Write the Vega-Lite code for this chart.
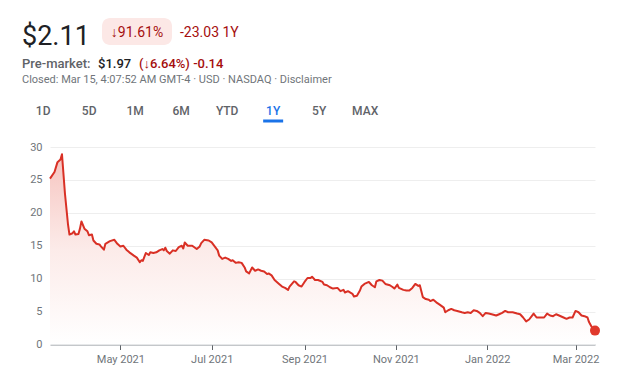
{
  "$schema": "https://vega.github.io/schema/vega-lite/v6.json",
  "background": "#ffffff",
  "padding": {"left": 22, "top": 18, "right": 0, "bottom": 0},
  "config": {
    "view": {"stroke": null},
    "font": "Roboto",
    "title": {"anchor": "start", "frame": "group"}
  },
  "columns": 1,
  "spacing": 0,
  "concat": [
    {
      "hconcat": [
        {
          "width": 44, "height": 34,
          "data": {"values": []},
          "mark": "point",
          "title": {"text": "$2.11", "fontSize": 27, "fontWeight": 400, "color": "#202124", "offset": -33, "dx": -28}
        },
        {
          "width": 70, "height": 27,
          "view": {"fill": "#fce8e6", "cornerRadius": 8, "stroke": null},
          "data": {"values": []},
          "mark": "point",
          "title": {"text": "↓91.61%", "anchor": "middle", "fontSize": 14, "fontWeight": 400, "color": "#a50e0e", "offset": -21.6}
        },
        {
          "width": 1, "height": 34,
          "data": {"values": []},
          "mark": "point",
          "title": {"text": "-23.03 1Y", "fontSize": 14, "fontWeight": 400, "color": "#a50e0e", "offset": -21.6}
        }
      ],
      "spacing": 8
    },
    {
      "hconcat": [
        {
          "width": 1, "height": 19,
          "data": {"values": []},
          "mark": "point",
          "title": {"text": "Pre-market:", "fontSize": 13, "fontWeight": 500, "color": "#5f6368", "offset": -19, "dx": -28}
        },
        {
          "width": 1, "height": 19,
          "data": {"values": []},
          "mark": "point",
          "title": {"text": "$1.97", "fontSize": 13, "fontWeight": 500, "color": "#202124", "offset": -19}
        },
        {
          "width": 1, "height": 19,
          "data": {"values": []},
          "mark": "point",
          "title": {"text": "(↓6.64%) -0.14", "fontSize": 13, "fontWeight": 500, "color": "#a50e0e", "offset": -19}
        }
      ],
      "spacing": 7
    },
    {
      "width": 1, "height": 15,
      "data": {"values": []},
      "mark": "point",
      "title": {"text": "Closed: Mar 15, 4:07:52 AM GMT-4 · USD · NASDAQ · Disclaimer", "fontSize": 11, "fontWeight": 400, "color": "#70757a", "offset": -14.3, "dx": -28}
    },
    {
      "width": {"step": 46},
      "height": 55,
      "data": {"values": [{"tab": "1D"}, {"tab": "5D"}, {"tab": "1M"}, {"tab": "6M"}, {"tab": "YTD"}, {"tab": "1Y"}, {"tab": "5Y"}, {"tab": "MAX"}]},
      "encoding": {
        "x": {"field": "tab", "type": "ordinal", "sort": null, "axis": null, "scale": {"type": "point", "padding": 0.46}}
      },
      "layer": [
        {
          "mark": {"type": "text", "fontSize": 12, "fontWeight": 500, "baseline": "alphabetic", "dy": 1.5, "dx": -28},
          "encoding": {
            "text": {"field": "tab"},
            "color": {"condition": {"test": "datum.tab === '1Y'", "value": "#1a73e8"}, "value": "#5f6368"}
          }
        },
        {
          "transform": [{"filter": "datum.tab === '1Y'"}],
          "mark": {"type": "tick", "orient": "horizontal", "size": 20, "thickness": 3, "color": "#1a73e8", "yOffset": 7.5, "xOffset": -28, "opacity": 1}
        }
      ]
    },
    {
      "width": 545,
      "height": 197.5,
      "data": {"values": [
        {"date": "2021-03-15", "price": 25.2}, {"date": "2021-03-18", "price": 26.2}, {"date": "2021-03-20", "price": 27.7},
        {"date": "2021-03-22", "price": 28.1}, {"date": "2021-03-23", "price": 28.9}, {"date": "2021-03-25", "price": 22.9},
        {"date": "2021-03-27", "price": 18.3}, {"date": "2021-03-28", "price": 16.7}, {"date": "2021-03-30", "price": 16.9},
        {"date": "2021-03-31", "price": 17.2}, {"date": "2021-04-01", "price": 16.7}, {"date": "2021-04-03", "price": 16.8},
        {"date": "2021-04-04", "price": 17.6}, {"date": "2021-04-05", "price": 18.7}, {"date": "2021-04-07", "price": 17.6},
        {"date": "2021-04-09", "price": 17.2}, {"date": "2021-04-10", "price": 16.6}, {"date": "2021-04-12", "price": 16.7},
        {"date": "2021-04-13", "price": 15.8}, {"date": "2021-04-15", "price": 15.3}, {"date": "2021-04-17", "price": 15.2},
        {"date": "2021-04-18", "price": 14.9}, {"date": "2021-04-20", "price": 14.4}, {"date": "2021-04-21", "price": 15.3},
        {"date": "2021-04-24", "price": 15.7}, {"date": "2021-04-27", "price": 15.9}, {"date": "2021-04-29", "price": 15.3},
        {"date": "2021-05-01", "price": 14.9}, {"date": "2021-05-03", "price": 15.0}, {"date": "2021-05-05", "price": 14.4},
        {"date": "2021-05-07", "price": 14.0}, {"date": "2021-05-10", "price": 13.5}, {"date": "2021-05-12", "price": 13.2},
        {"date": "2021-05-14", "price": 12.5}, {"date": "2021-05-15", "price": 12.8}, {"date": "2021-05-16", "price": 12.7},
        {"date": "2021-05-18", "price": 13.9}, {"date": "2021-05-20", "price": 13.6}, {"date": "2021-05-21", "price": 14.0},
        {"date": "2021-05-23", "price": 13.9}, {"date": "2021-05-25", "price": 14.0}, {"date": "2021-05-27", "price": 14.3},
        {"date": "2021-05-29", "price": 14.5}, {"date": "2021-05-30", "price": 14.3}, {"date": "2021-05-31", "price": 14.7},
        {"date": "2021-06-01", "price": 14.2}, {"date": "2021-06-03", "price": 13.8}, {"date": "2021-06-05", "price": 14.3},
        {"date": "2021-06-07", "price": 14.2}, {"date": "2021-06-09", "price": 14.8}, {"date": "2021-06-11", "price": 15.0},
        {"date": "2021-06-12", "price": 14.6}, {"date": "2021-06-13", "price": 15.5}, {"date": "2021-06-15", "price": 15.0},
        {"date": "2021-06-18", "price": 15.0}, {"date": "2021-06-21", "price": 14.5}, {"date": "2021-06-23", "price": 14.9},
        {"date": "2021-06-24", "price": 15.4}, {"date": "2021-06-26", "price": 15.9}, {"date": "2021-06-29", "price": 15.8},
        {"date": "2021-07-01", "price": 15.5}, {"date": "2021-07-03", "price": 14.9}, {"date": "2021-07-05", "price": 14.3},
        {"date": "2021-07-06", "price": 13.5}, {"date": "2021-07-08", "price": 13.0}, {"date": "2021-07-10", "price": 13.2},
        {"date": "2021-07-12", "price": 13.0}, {"date": "2021-07-14", "price": 12.7}, {"date": "2021-07-15", "price": 12.8},
        {"date": "2021-07-17", "price": 12.4}, {"date": "2021-07-19", "price": 12.5}, {"date": "2021-07-21", "price": 12.4},
        {"date": "2021-07-23", "price": 11.7}, {"date": "2021-07-24", "price": 11.1}, {"date": "2021-07-26", "price": 10.8},
        {"date": "2021-07-28", "price": 11.7}, {"date": "2021-07-30", "price": 11.2}, {"date": "2021-08-01", "price": 11.4},
        {"date": "2021-08-03", "price": 11.2}, {"date": "2021-08-05", "price": 11.1}, {"date": "2021-08-07", "price": 10.7},
        {"date": "2021-08-08", "price": 10.8}, {"date": "2021-08-10", "price": 10.5}, {"date": "2021-08-12", "price": 9.8},
        {"date": "2021-08-15", "price": 9.2}, {"date": "2021-08-17", "price": 8.8}, {"date": "2021-08-19", "price": 8.6},
        {"date": "2021-08-21", "price": 8.3}, {"date": "2021-08-22", "price": 8.8}, {"date": "2021-08-25", "price": 9.6},
        {"date": "2021-08-26", "price": 9.5}, {"date": "2021-08-28", "price": 9.0}, {"date": "2021-08-30", "price": 8.8},
        {"date": "2021-09-01", "price": 9.5}, {"date": "2021-09-03", "price": 10.1}, {"date": "2021-09-05", "price": 10.1},
        {"date": "2021-09-06", "price": 10.3}, {"date": "2021-09-08", "price": 9.8}, {"date": "2021-09-10", "price": 9.8},
        {"date": "2021-09-13", "price": 9.5}, {"date": "2021-09-14", "price": 9.1}, {"date": "2021-09-16", "price": 9.0},
        {"date": "2021-09-18", "price": 8.7}, {"date": "2021-09-20", "price": 8.5}, {"date": "2021-09-23", "price": 8.6},
        {"date": "2021-09-25", "price": 8.1}, {"date": "2021-09-27", "price": 8.3}, {"date": "2021-09-28", "price": 7.9},
        {"date": "2021-09-30", "price": 8.1}, {"date": "2021-10-03", "price": 7.7}, {"date": "2021-10-04", "price": 7.3},
        {"date": "2021-10-06", "price": 7.4}, {"date": "2021-10-08", "price": 8.2}, {"date": "2021-10-09", "price": 8.8},
        {"date": "2021-10-11", "price": 9.2}, {"date": "2021-10-14", "price": 9.5}, {"date": "2021-10-16", "price": 9.0},
        {"date": "2021-10-18", "price": 8.7}, {"date": "2021-10-19", "price": 9.6}, {"date": "2021-10-21", "price": 9.8},
        {"date": "2021-10-23", "price": 9.7}, {"date": "2021-10-25", "price": 9.2}, {"date": "2021-10-28", "price": 9.0},
        {"date": "2021-10-30", "price": 8.7}, {"date": "2021-10-31", "price": 8.5}, {"date": "2021-11-02", "price": 9.1},
        {"date": "2021-11-03", "price": 8.6}, {"date": "2021-11-06", "price": 8.3}, {"date": "2021-11-08", "price": 8.2},
        {"date": "2021-11-10", "price": 8.2}, {"date": "2021-11-12", "price": 8.6}, {"date": "2021-11-14", "price": 9.2},
        {"date": "2021-11-16", "price": 8.9}, {"date": "2021-11-17", "price": 9.0}, {"date": "2021-11-19", "price": 7.2},
        {"date": "2021-11-21", "price": 6.9}, {"date": "2021-11-23", "price": 6.8}, {"date": "2021-11-24", "price": 6.6},
        {"date": "2021-11-26", "price": 6.8}, {"date": "2021-11-28", "price": 6.4}, {"date": "2021-11-30", "price": 6.1},
        {"date": "2021-12-03", "price": 5.6}, {"date": "2021-12-04", "price": 4.9}, {"date": "2021-12-06", "price": 5.2},
        {"date": "2021-12-08", "price": 5.4}, {"date": "2021-12-10", "price": 5.2}, {"date": "2021-12-12", "price": 5.1},
        {"date": "2021-12-15", "price": 4.9}, {"date": "2021-12-17", "price": 4.8}, {"date": "2021-12-19", "price": 4.9},
        {"date": "2021-12-21", "price": 4.8}, {"date": "2021-12-23", "price": 5.2}, {"date": "2021-12-25", "price": 5.1},
        {"date": "2021-12-27", "price": 4.8}, {"date": "2021-12-29", "price": 4.3}, {"date": "2021-12-31", "price": 4.8},
        {"date": "2022-01-02", "price": 4.7}, {"date": "2022-01-04", "price": 4.6}, {"date": "2022-01-07", "price": 4.4},
        {"date": "2022-01-09", "price": 4.6}, {"date": "2022-01-11", "price": 4.8}, {"date": "2022-01-13", "price": 5.1},
        {"date": "2022-01-15", "price": 4.9}, {"date": "2022-01-18", "price": 4.9}, {"date": "2022-01-21", "price": 4.7},
        {"date": "2022-01-23", "price": 4.6}, {"date": "2022-01-25", "price": 4.1}, {"date": "2022-01-27", "price": 3.5},
        {"date": "2022-01-29", "price": 3.8}, {"date": "2022-01-31", "price": 4.4}, {"date": "2022-02-01", "price": 4.7},
        {"date": "2022-02-03", "price": 4.1}, {"date": "2022-02-05", "price": 4.1}, {"date": "2022-02-08", "price": 4.1},
        {"date": "2022-02-10", "price": 4.7}, {"date": "2022-02-12", "price": 4.4}, {"date": "2022-02-14", "price": 4.3},
        {"date": "2022-02-16", "price": 4.6}, {"date": "2022-02-18", "price": 4.4}, {"date": "2022-02-21", "price": 4.1},
        {"date": "2022-02-23", "price": 3.9}, {"date": "2022-02-25", "price": 4.1}, {"date": "2022-02-27", "price": 4.1},
        {"date": "2022-03-01", "price": 5.1}, {"date": "2022-03-03", "price": 4.9}, {"date": "2022-03-05", "price": 4.4},
        {"date": "2022-03-07", "price": 4.3}, {"date": "2022-03-09", "price": 4.1}, {"date": "2022-03-10", "price": 3.4},
        {"date": "2022-03-12", "price": 2.6}, {"date": "2022-03-14", "price": 2.11}
      ]},
      "encoding": {
        "x": {
          "field": "date", "type": "temporal",
          "scale": {"nice": false},
          "axis": {
            "title": null, "grid": false,
            "values": [
              {"year": 2021, "month": 5, "date": 1}, {"year": 2021, "month": 7, "date": 1},
              {"year": 2021, "month": 9, "date": 1}, {"year": 2021, "month": 11, "date": 1},
              {"year": 2022, "month": 1, "date": 1}, {"year": 2022, "month": 3, "date": 1}
            ],
            "format": "%b %Y",
            "domainColor": "#9aa0a6", "domainWidth": 1,
            "tickColor": "#5f6368", "tickSize": 5, "tickWidth": 1,
            "labelColor": "#70757a", "labelFontSize": 11, "labelPadding": 4, "labelFont": "Roboto"
          }
        },
        "y": {
          "field": "price", "type": "quantitative",
          "scale": {"domain": [0, 30], "nice": false, "zero": true},
          "axis": {
            "title": null, "values": [0, 5, 10, 15, 20, 25, 30],
            "domain": false, "ticks": false, "labelPadding": 8, "minExtent": 28,
            "labelColor": "#70757a", "labelFontSize": 11, "labelFont": "Roboto",
            "gridColor": "#eeeeee", "gridWidth": 1
          }
        }
      },
      "layer": [
        {
          "mark": {
            "type": "area",
            "color": {
              "gradient": "linear", "x1": 0, "y1": 0, "x2": 0, "y2": 1,
              "stops": [
                {"offset": 0, "color": "#f6c4bf"},
                {"offset": 0.5, "color": "#fcebe9"},
                {"offset": 1, "color": "#ffffff"}
              ]
            }
          }
        },
        {
          "mark": {"type": "line", "color": "#d93025", "strokeWidth": 2, "strokeJoin": "round"}
        },
        {
          "transform": [
            {"joinaggregate": [{"op": "max", "field": "date", "as": "lastDate"}]},
            {"filter": "+datum.date === +datum.lastDate"}
          ],
          "mark": {"type": "circle", "size": 100, "color": "#e0392c", "opacity": 1}
        }
      ]
    }
  ]
}
